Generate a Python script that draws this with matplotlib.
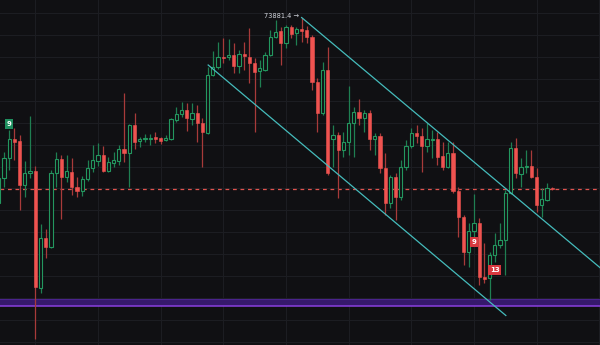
import matplotlib
matplotlib.use("Agg")
import matplotlib.pyplot as plt
import numpy as np
from matplotlib.patches import Rectangle

# OHLC, one entry per candle
opens = [69245, 69870, 70370, 70845, 70795, 69695, 69995, 70045, 67120, 68370,
         68145, 69995, 70345, 69895, 70020, 69645, 69545, 69845, 70120, 70295,
         70445, 70045, 70245, 70295, 70595, 70495, 71195, 70795, 70845, 70845,
         70895, 70870, 70820, 70845, 71320, 71470, 71570, 71345, 71495, 71245,
         70995, 72445, 72645, 72895, 72895, 72945, 72670, 72970, 72895, 72745,
         72545, 72570, 72945, 73395, 73545, 73245, 73645, 73495, 73595, 73570,
         73395, 72270, 71495, 72570, 70845, 70945, 70570, 70770, 71245, 71520,
         71370, 71495, 70845, 70920, 70120, 69245, 69895, 69395, 70145, 70670,
         70995, 70920, 70670, 70820, 70845, 70420, 70145, 70495, 69545, 68895,
         68020, 68545, 68745, 67395, 67370, 67945, 68195, 68320, 69495, 70620,
         69970, 70145, 70170, 69895, 69195, 69320, 69620]
highs = [69945, 70520, 71070, 71120, 70945, 70295, 71420, 70170, 68720, 68595,
         70070, 70520, 70445, 70445, 70370, 69895, 69920, 70320, 70695, 70745,
         70670, 70395, 70520, 70695, 71995, 71220, 71495, 70895, 70970, 70970,
         71020, 70895, 70945, 71370, 71645, 71770, 71745, 71745, 71695, 71370,
         72645, 73045, 73270, 73370, 73345, 73245, 73070, 73270, 73620, 72870,
         72820, 73020, 73570, 73820, 73645, 73695, 73695, 73645, 73881.4, 73670,
         73445, 72370, 72770, 73145, 71195, 71020, 71020, 72170, 71645, 71845,
         71570, 71570, 70995, 70995, 70495, 69945, 69995, 70320, 70820, 71120,
         71195, 71120, 71245, 71070, 71020, 70770, 70770, 70770, 69645, 68945,
         68745, 69470, 68870, 68245, 68020, 68495, 68745, 69570, 70770, 70870,
         70370, 70570, 70570, 70120, 69620, 69745, 69645]
lows = [69195, 69645, 70070, 70320, 69070, 69395, 69870, 65845, 66995, 67870,
        68120, 69645, 68845, 69770, 69445, 69395, 69420, 69795, 70020, 70170,
        70020, 70020, 70145, 70195, 70270, 69645, 70595, 70645, 70770, 70695,
        70745, 70720, 70795, 70820, 71270, 71395, 71045, 71195, 70770, 70145,
        70970, 72420, 72595, 72745, 72820, 72495, 72495, 72570, 72245, 71020,
        72145, 72545, 72920, 73370, 72695, 73120, 73370, 73195, 73270, 73245,
        72070, 71020, 71445, 69945, 70145, 69370, 70395, 70445, 70395, 71195,
        71020, 70570, 70445, 69995, 68945, 69120, 68820, 69320, 70070, 70620,
        70745, 70020, 70520, 70370, 70195, 70070, 70120, 69495, 68395, 67695,
        67645, 68320, 67195, 67245, 66820, 67770, 68120, 67445, 69470, 69870,
        69645, 69995, 69870, 69020, 68895, 69295, 69570]
closes = [69870, 70370, 70845, 70770, 69695, 69995, 70045, 67145, 68370, 68145,
          69995, 70345, 69895, 70045, 69645, 69545, 69845, 70120, 70320, 70445,
          70045, 70270, 70320, 70595, 70495, 71195, 70770, 70845, 70870, 70870,
          70845, 70795, 70870, 71345, 71470, 71570, 71370, 71495, 71245, 71020,
          72445, 72645, 72895, 72870, 72945, 72670, 72970, 72920, 72745, 72520,
          72620, 72945, 73395, 73520, 73245, 73645, 73470, 73595, 73545, 73395,
          72270, 71495, 72570, 69995, 70945, 70570, 70770, 71245, 71520, 71370,
          71495, 70845, 70920, 70120, 69245, 69895, 69395, 70145, 70670, 70995,
          70920, 70670, 70845, 70845, 70395, 70145, 70495, 69545, 68895, 68020,
          68545, 68745, 67395, 67345, 67945, 68195, 68320, 69495, 70620, 69995,
          70145, 70170, 69895, 69195, 69345, 69620, 69595]

# drawings on the chart
upper_channel = [(58.0, 73881.4), (115.1, 67632.5)]
lower_channel = [(40.1, 72695.0), (97.1, 66432.5)]
support_band = (66670.0, 66832.5)
td_labels = [(2, 71220, "9", "up"), (91, 68275, "9", "down"), (95, 67570, "13", "down")]
high_label = (58, 73881.4, "73881.4")

BG = "#101013"
GRID = "#1c1d22"
UP = "#23975f"
UP_WICK = "#1f7f52"
DOWN = "#ef5350"
DOWN_WICK = "#a83a3a"
CHANNEL = "#45bcbc"

fig = plt.figure(figsize=(6.0, 3.45), dpi=100, facecolor=BG)
ax = fig.add_axes([0, 0, 1, 1])
ax.set_facecolor(BG)
ax.set_xlim(0.24, 115.13)
ax.set_ylim(65695, 74320)
for s in ax.spines.values():
    s.set_visible(False)
ax.tick_params(length=0, labelleft=False, labelbottom=False)
ax.set_xticks(np.arange(7, 120, 12))
ax.set_yticks(np.arange(73987.5, 65600, -547.5))
ax.grid(True, color=GRID, lw=0.8, zorder=0)
ax.set_axisbelow(True)

# support band
ax.axhspan(support_band[0], support_band[1], color="#36196c", lw=0, zorder=1)
ax.axhline(support_band[1], color="#4a238c", lw=0.8, zorder=1)
ax.axhline(support_band[0], color="#8a3fe0", lw=1.1, zorder=1)

# last price line
ax.axhline(closes[-1], color="#e0534e", lw=0.9, dashes=(3, 3), zorder=1)

w = 0.62
min_h = 25
for i, (o, h, l, c) in enumerate(zip(opens, highs, lows, closes)):
    top, bot = max(o, c), min(o, c)
    if top - bot < min_h:
        mid = (top + bot) / 2
        top, bot = mid + min_h / 2, mid - min_h / 2
    if c >= o:
        ax.plot([i, i], [top, h], color=UP_WICK, lw=0.9, zorder=3, solid_capstyle="butt")
        ax.plot([i, i], [l, bot], color=UP_WICK, lw=0.9, zorder=3, solid_capstyle="butt")
        ax.add_patch(Rectangle((i - w / 2, bot), w, top - bot, facecolor=BG,
                               edgecolor=UP, lw=0.8, zorder=4))
    else:
        ax.plot([i, i], [l, h], color=DOWN_WICK, lw=0.9, zorder=3, solid_capstyle="butt")
        ax.add_patch(Rectangle((i - w / 2, bot), w, top - bot, facecolor=DOWN,
                               edgecolor=DOWN, lw=0.4, zorder=4))

# channel lines
for line in (upper_channel, lower_channel):
    xs, ys = zip(*line)
    ax.plot(xs, ys, color=CHANNEL, lw=0.9, zorder=5)

# high annotation
hx, hy, htxt = high_label
ax.text(hx - 0.6, hy + 45, htxt + " \u2192", color="#d1d4dc", fontsize=4.8,
        ha="right", va="center", zorder=6)

# TD sequential labels
for x, y, txt, kind in td_labels:
    col = "#1f8f5f" if kind == "up" else "#d8393f"
    ax.text(x, y, txt, color="white", fontsize=5, fontweight="bold",
            ha="center", va="center", zorder=7,
            bbox=dict(boxstyle="square,pad=0.25", fc=col, ec="none"))

fig.savefig("out.png", dpi=100, facecolor=BG)
